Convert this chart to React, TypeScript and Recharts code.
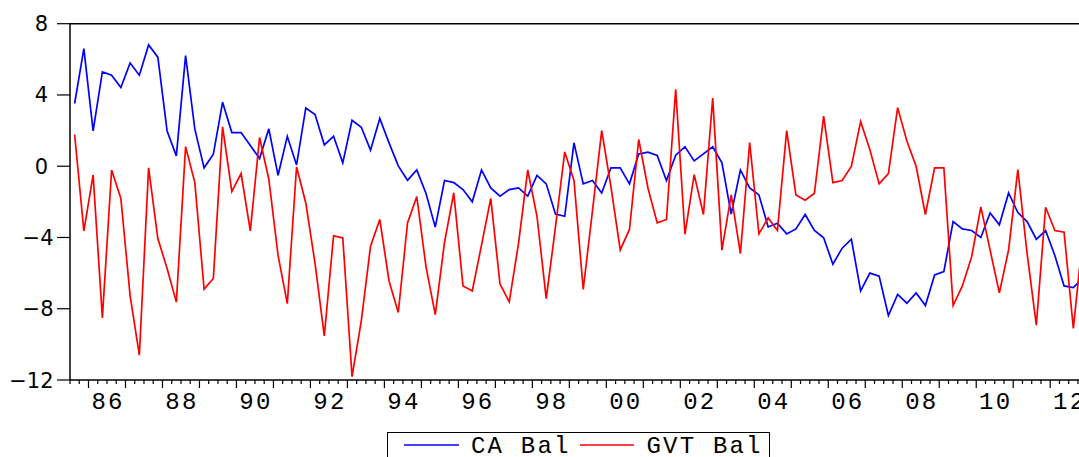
import React from 'react';
import { LineChart, Line, XAxis, YAxis, ReferenceLine, Legend } from 'recharts';

// Quarterly observations, starting 1985Q3
const caBal = [
  3.52, 6.6, 1.98, 5.29, 5.11, 4.42, 5.8, 5.11, 6.81, 6.12,
  1.98, 0.58, 6.21, 2.08, -0.09, 0.67, 3.59, 1.89, 1.89, 1.16,
  0.43, 2.1, -0.51, 1.68, 0.07, 3.27, 2.9, 1.2, 1.68, 0.19,
  2.58, 2.19, 0.9, 2.68, 1.31, 0.02, -0.79, -0.21, -1.53, -3.42,
  -0.8, -0.92, -1.31, -2.0, -0.21, -1.22, -1.68, -1.31, -1.22, -1.68,
  -0.51, -0.99, -2.69, -2.81, 1.31, -0.99, -0.8, -1.5, -0.09, -0.09,
  -0.99, 0.69, 0.79, 0.6, -0.8, 0.62, 1.09, 0.3, 0.69, 1.09,
  0.19, -2.69, -0.21, -1.22, -1.61, -3.41, -3.2, -3.8, -3.52, -2.71,
  -3.61, -4.02, -5.5, -4.6, -4.1, -7.0, -6.0, -6.17, -8.38, -7.2,
  -7.69, -7.11, -7.82, -6.1, -5.91, -3.11, -3.52, -3.61, -4.0, -2.62,
  -3.29, -1.5, -2.6, -3.11, -4.1, -3.61, -5.01, -6.72, -6.81, -6.3,
];

const gvtBal = [
  1.78, -3.63, -0.49, -8.51, -0.21, -1.81, -7.26, -10.61, -0.09, -4.06,
  -5.74, -7.63, 1.1, -0.92, -6.9, -6.3, 2.21, -1.42, -0.41, -3.63,
  1.61, -0.73, -5.01, -7.71, -0.04, -2.06, -5.46, -9.52, -3.91, -4.02,
  -11.81, -8.68, -4.49, -2.99, -6.44, -8.21, -3.18, -1.7, -5.65, -8.33,
  -4.27, -1.5, -6.72, -7.0, -4.43, -1.81, -6.61, -7.61, -4.34, -0.21,
  -2.81, -7.43, -3.41, 0.8, -0.8, -6.92, -2.51, 2.0, -1.16, -4.7,
  -3.55, 1.5, -1.22, -3.18, -2.99, 4.32, -3.82, -0.47, -2.71, 3.82,
  -4.71, -1.61, -4.9, 1.33, -3.8, -2.9, -3.61, 2.0, -1.61, -1.91,
  -1.52, 2.81, -0.92, -0.8, 0.0, 2.51, 0.92, -0.99, -0.41, 3.29,
  1.42, 0.0, -2.71, -0.09, -0.09, -7.82, -6.72, -5.09, -2.28, -4.71,
  -7.11, -4.7, -0.19, -4.9, -8.92, -2.3, -3.61, -3.7, -9.11, -4.1,
];

const yTicks = [-12, -8, -4, 0, 4, 8];
const yearLabels = ['86', '88', '90', '92', '94', '96', '98', '00', '02', '04', '06', '08', '10', '12'];
const seriesNames = ['CA Bal', 'GVT Bal'];
const seriesColors = ['#0000FF', '#FF0000'];

const data = caBal.map((v, i) => ({ t: i + 0.5, ca: v, gvt: gvtBal[i] }));
const quarterTicks = Array.from({ length: caBal.length + 1 }, (_, i) => i);

const monoFont = "'Liberation Mono', 'DejaVu Sans Mono', monospace";

const XTick = (props: any) => {
  const { x, y, payload } = props;
  const v = payload.value as number;
  const tall = (v - 2) % 4 === 0;
  const k = (v - 4) / 8;
  const label = Number.isInteger(k) && k >= 0 && k < yearLabels.length ? yearLabels[k] : null;
  return (
    <g>
      <line x1={x} x2={x} y1={y} y2={y + (tall ? 8 : 4)} stroke="#000" strokeWidth={1.2} />
      {label && (
        <text x={x + 1} y={y + 29} textAnchor="middle" fontFamily={monoFont} fontSize={24} letterSpacing={2.2} fill="#000">
          {label}
        </text>
      )}
    </g>
  );
};

const YTick = (props: any) => {
  const { x, y, payload } = props;
  const v = payload.value as number;
  const txt = v < 0 ? '\u2212' + Math.abs(v) : String(v);
  return (
    <text x={v < 0 ? x - 3.5 : x - 9} y={y + 7.5} textAnchor="end" fontFamily="DejaVu Sans" fontSize={21} fill="#000">
      {txt}
    </text>
  );
};

const LegendBox = () => (
  <div
    style={{
      position: 'absolute',
      left: 387,
      top: 432,
      width: 383,
      height: 40,
      border: '1.5px solid #000',
      boxSizing: 'border-box',
      background: '#fff',
    }}
  >
    <svg width={383} height={40} style={{ position: 'absolute', left: -1, top: -1 }}>
      <line x1={17} x2={72} y1={13} y2={13} stroke={seriesColors[0]} strokeWidth={1.5} />
      <text x={84} y={20.5} fontFamily={monoFont} fontSize={24} letterSpacing={2.2} fill="#000">
        {seriesNames[0]}
      </text>
      <line x1={193} x2={247} y1={13} y2={13} stroke={seriesColors[1]} strokeWidth={1.5} />
      <text x={259.5} y={20.5} fontFamily={monoFont} fontSize={24} letterSpacing={2.2} fill="#000">
        {seriesNames[1]}
      </text>
    </svg>
  </div>
);

export default function App() {
  return (
    <div style={{ position: 'absolute', left: 0, top: 0, width: 1079, height: 457, overflow: 'hidden', background: '#fff' }}>
      <LineChart width={1100} height={457} data={data} margin={{ top: 23.7, right: 12.8, bottom: 37, left: 10 }}>
        <XAxis
          dataKey="t"
          type="number"
          domain={[0, caBal.length]}
          ticks={quarterTicks}
          interval={0}
          tickSize={0}
          tickMargin={0}
          tickLine={false}
          height={40}
          axisLine={{ stroke: '#000', strokeWidth: 1.5 }}
          tick={<XTick />}
        />
        <YAxis
          type="number"
          domain={[-12, 8]}
          ticks={yTicks}
          interval={0}
          width={60}
          tickSize={13}
          tickMargin={0}
          axisLine={{ stroke: '#000', strokeWidth: 1.5 }}
          tickLine={{ stroke: '#000', strokeWidth: 1.2 }}
          tick={<YTick />}
        />
        <ReferenceLine y={8} stroke="#000" strokeWidth={1.5} />
        <ReferenceLine x={caBal.length} stroke="#000" strokeWidth={1.5} />
        <Line type="linear" dataKey="ca" name={seriesNames[0]} stroke={seriesColors[0]} strokeWidth={1.7} dot={false} isAnimationActive={false} />
        <Line type="linear" dataKey="gvt" name={seriesNames[1]} stroke={seriesColors[1]} strokeWidth={1.7} dot={false} isAnimationActive={false} />
        <Legend
          layout="horizontal"
          verticalAlign="middle"
          align="center"
          content={<LegendBox />}
          wrapperStyle={{ position: 'absolute', left: 0, top: 0, width: 0, height: 0 }}
        />
      </LineChart>
    </div>
  );
}
